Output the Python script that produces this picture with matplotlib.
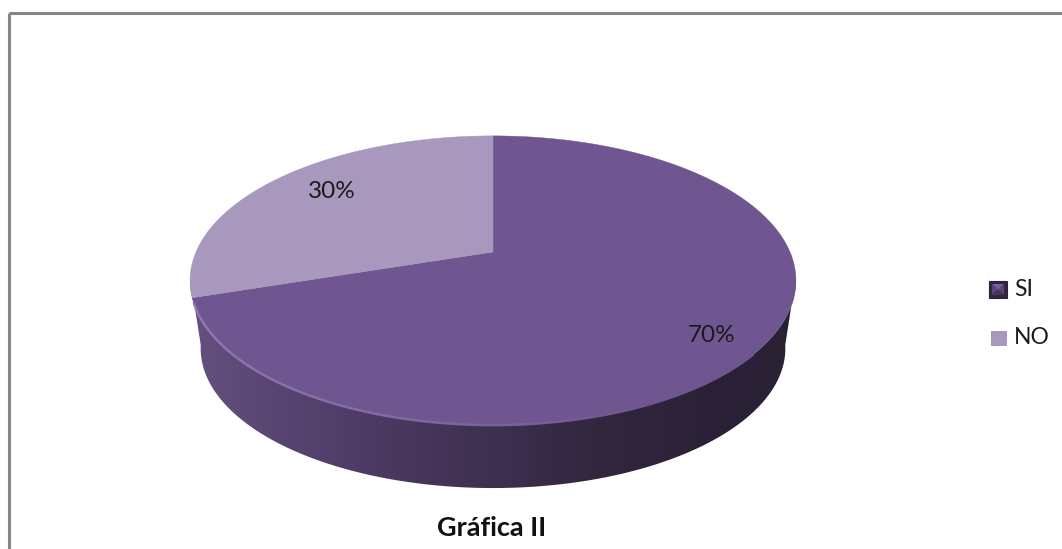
import numpy as np
import matplotlib
matplotlib.use('Agg')
import matplotlib.pyplot as plt
from matplotlib.colors import LinearSegmentedColormap, to_rgb
from matplotlib.collections import LineCollection
from matplotlib.patches import Polygon, Rectangle

labels = ['SI', 'NO']
values = [70, 30]
colors = ['#705690', '#a898bd']
pct_labels = ['70%', '30%']
title = 'Gráfica II'

plt.rcParams['font.family'] = ['Lato', 'Open Sans', 'DejaVu Sans']

W, H = 1062, 549
CX, CY = 493, 252     # pie centre, in pixels
A, B, P = 297, 139, 0.197   # tilted disc: half width, half depth, perspective


def project(deg, scale=1.0, dy=0):
    # deg runs clockwise from the top of the pie
    t = np.radians(deg)
    u, v = np.sin(t), np.cos(t)
    w = 1 + P * v
    return CX + scale * A * u / w, CY + dy - scale * B * v / w


fig = plt.figure(figsize=(W / 100, H / 100), dpi=100)
ax = fig.add_axes([0, 0, 1, 1])
ax.set_xlim(0, W)
ax.set_ylim(H, 0)
ax.axis('off')

# frame, open at the bottom
ax.plot([9, 9], [H, 13], color='#868686', lw=2.2, solid_capstyle='butt')
ax.plot([9, W], [13, 13], color='#868686', lw=2.2, solid_capstyle='butt')

# side wall with a left to right shade
front = np.linspace(100, 260, 200)
tx, ty = project(front)
bx, by = project(front[::-1], scale=0.965, dy=69)
wall = Polygon(np.column_stack([np.r_[tx, bx], np.r_[ty, by]]),
               closed=True, fc='none', ec='none', transform=ax.transData)
ax.add_patch(wall)
shade = LinearSegmentedColormap.from_list(
    'wall', ['#65507f', '#574370', '#4a3860', '#3e3050', '#33263f', '#2c2238', '#2b2135'])
img = ax.imshow(np.linspace(0, 1, 256)[None, :], cmap=shade, aspect='auto',
                extent=(188, 798, 500, 260), zorder=1)
img.set_clip_path(wall)
ax.set_xlim(0, W)
ax.set_ylim(H, 0)

# slices, clockwise from the top
start = 0
for val, col in zip(values, colors):
    sweep = 360 * val / sum(values)
    ang = np.linspace(start, start + sweep, 200)
    x, y = project(ang)
    ax.add_patch(Polygon(np.column_stack([np.r_[CX, x], np.r_[CY, y]]),
                         closed=True, fc=col, ec=col, lw=0.3, zorder=2))
    start += sweep

# light rim on the front edge, fading towards the right
rim = np.linspace(250, 130, 160)
rx, ry = project(rim)
pts = np.column_stack([rx, ry])
segs = np.stack([pts[:-1], pts[1:]], axis=1)
fade = np.clip((rx[:-1] - 200) / 450, 0, 1)
rim_a, rim_b = np.array(to_rgb('#8f79b0')), np.array(to_rgb('#705690'))
rim_cols = [rim_a + (rim_b - rim_a) * f for f in fade]
ax.add_collection(LineCollection(segs, colors=rim_cols, linewidths=1.8, zorder=3))

# percent labels
ax.text(712, 336, pct_labels[0], fontsize=17.5, color='#1a1a1a', ha='center', va='center', zorder=4)
ax.text(332, 191, pct_labels[1], fontsize=17.5, color='#1a1a1a', ha='center', va='center', zorder=4)

# legend, the SI key has a bevelled look
ax.add_patch(Rectangle((989, 281), 18, 17, fc='#33263f', ec='#2c2238', lw=0.8))
ax.add_patch(Polygon([(992, 284), (1004, 284), (998, 290)], closed=True, fc='#7a5f9c', ec='none'))
ax.add_patch(Polygon([(992, 284), (998, 290), (992, 295)], closed=True, fc='#5a4478', ec='none'))
ax.add_patch(Polygon([(1004, 284), (998, 290), (1004, 295)], closed=True, fc='#5a4478', ec='none'))
ax.add_patch(Polygon([(992, 295), (998, 290), (1004, 295)], closed=True, fc='#463459', ec='none'))
ax.add_patch(Rectangle((991, 331), 16, 15, fc=colors[1], ec='none'))
ax.text(1014, 290, labels[0], fontsize=16.5, color='#1a1a1a', va='center')
ax.text(1014, 338, labels[1], fontsize=16.5, color='#1a1a1a', va='center')

ax.text(492, 528, title, fontsize=19.5, fontweight='bold', color='#111111', ha='center', va='center')

fig.savefig('out.png', dpi=100)
